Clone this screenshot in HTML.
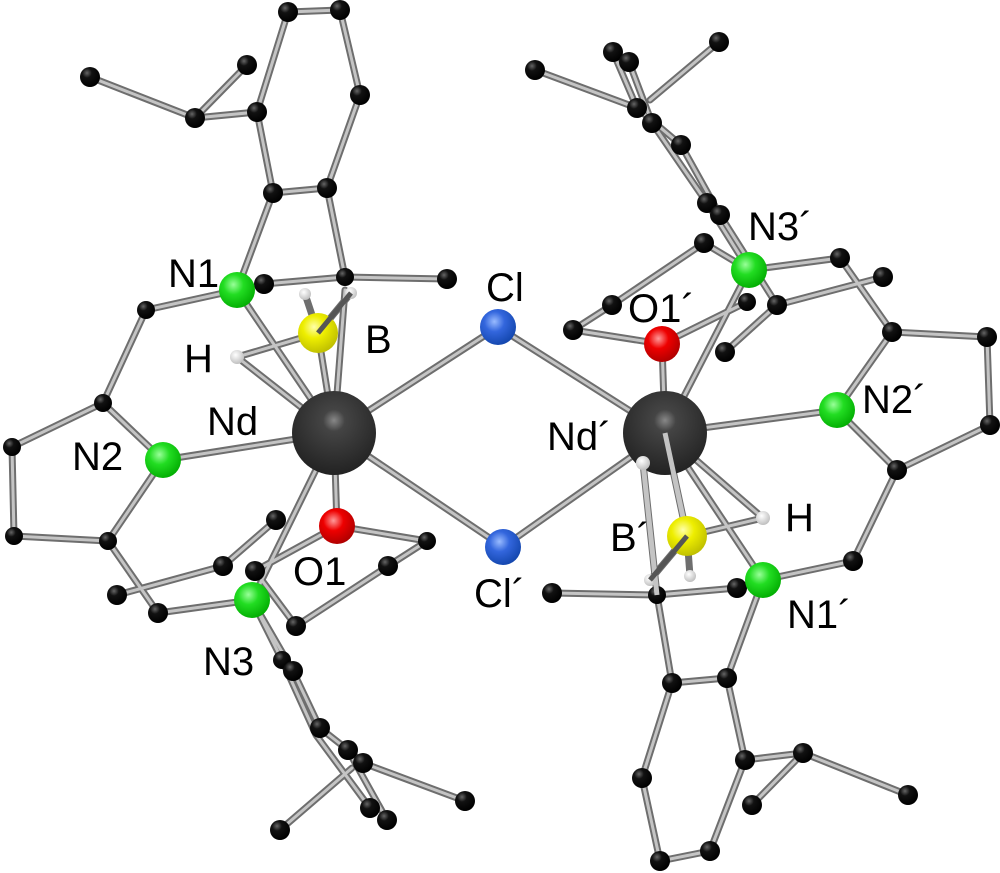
<!DOCTYPE html>
<html><head><meta charset="utf-8"><style>
html,body{margin:0;padding:0;background:#fff;}
svg{display:block;}
text{font-family:"Liberation Sans",sans-serif;font-size:40px;fill:#000;}
</style></head><body>
<svg width="1000" height="873" viewBox="0 0 1000 873" xmlns="http://www.w3.org/2000/svg">
<defs>
<radialGradient id="gC" cx="0.35" cy="0.3" r="0.7"><stop offset="0" stop-color="#666"/><stop offset="0.35" stop-color="#111"/><stop offset="1" stop-color="#000"/></radialGradient>
<radialGradient id="gNd" cx="0.5" cy="0.35" r="0.65"><stop offset="0" stop-color="#888"/><stop offset="0.2" stop-color="#444"/><stop offset="1" stop-color="#222"/></radialGradient>
<radialGradient id="gN" cx="0.4" cy="0.35" r="0.7"><stop offset="0" stop-color="#9f9"/><stop offset="0.4" stop-color="#2d2"/><stop offset="1" stop-color="#0a0"/></radialGradient>
<radialGradient id="gCl" cx="0.4" cy="0.35" r="0.7"><stop offset="0" stop-color="#9bf"/><stop offset="0.4" stop-color="#36d"/><stop offset="1" stop-color="#14a"/></radialGradient>
<radialGradient id="gO" cx="0.4" cy="0.35" r="0.7"><stop offset="0" stop-color="#f99"/><stop offset="0.4" stop-color="#e00"/><stop offset="1" stop-color="#a00"/></radialGradient>
<radialGradient id="gB" cx="0.4" cy="0.35" r="0.7"><stop offset="0" stop-color="#ffa"/><stop offset="0.4" stop-color="#ee0"/><stop offset="1" stop-color="#bb0"/></radialGradient>
<radialGradient id="gH" cx="0.4" cy="0.35" r="0.7"><stop offset="0" stop-color="#fff"/><stop offset="1" stop-color="#bbb"/></radialGradient>
</defs>
<g id="bonds" stroke-linecap="round">
<g stroke="#6e6e6e" stroke-width="7">
<path d="M288 12L340 10M288 12L257 112M340 10L360 95M360 95L327 188M327 188L273 193M273 193L257 112M257 112L195 118M195 118L90 77M195 118L247 65M273 193L237 290M327 188L345 277M345 277L447 279M345 277L264 284M237 290L146 310M146 310L103 403M237 290L334 433M318 333L334 433M237 357L318 333M237 357L334 433M345 290L334 433M318 333L351 293M318 333L305 294M334 433L498 327M498 327L665 433M334 433L503 547M503 547L665 433"/>
<path d="M103 403L12 447M103 403L163 460M12 447L14 536M14 536L108 541M108 541L163 460M163 460L334 433M108 541L158 613M158 613L252 600M117 595L223 566M223 566L276 520M334 433L337 526M337 526L255 571M334 433L252 600M255 571L296 626M296 626L388 566M388 566L427 541M427 541L337 526M252 600L282 660M252 600L293 671M293 671L320 728M282 660L316 735M320 728L348 750M348 750L363 763M363 763L465 801M348 750L387 820M316 735L370 808M280 830L352 768"/>
<path d="M535 70L637 108M719 42L650 100M613 52L637 108M629 62L652 123M637 108L681 145M652 123L707 203M681 145L720 215M707 203L749 270M720 215L777 305M704 243L612 305M704 243L749 270M612 305L573 330M573 330L662 344M662 344L747 302M777 305L883 277M777 305L725 352M749 270L840 258M840 258L892 332M892 332L987 337M987 337L990 425M892 332L837 410M665 433L749 270M665 433L662 344M665 433L837 410M837 410L897 470M990 425L897 470M897 470L853 561M853 561L763 580"/>
<path d="M665 433L687 536M687 536L763 518M763 518L665 433M665 433L763 580M687 536L650 580M687 536L690 576M643 463L657 595M552 593L657 595M657 595L737 588M737 588L763 580M657 595L672 683M672 683L727 678M727 678L763 580M727 678L745 760M745 760L803 753M803 753L908 795M803 753L752 805M672 683L642 778M642 778L660 861M660 861L710 851M710 851L745 760"/>
</g>
<g stroke="#c4c4c4" stroke-width="3">
<path d="M288 12L340 10M288 12L257 112M340 10L360 95M360 95L327 188M327 188L273 193M273 193L257 112M257 112L195 118M195 118L90 77M195 118L247 65M273 193L237 290M327 188L345 277M345 277L447 279M345 277L264 284M237 290L146 310M146 310L103 403M237 290L334 433M318 333L334 433M237 357L318 333M237 357L334 433M345 290L334 433M334 433L498 327M498 327L665 433M334 433L503 547M503 547L665 433"/>
<path d="M103 403L12 447M103 403L163 460M12 447L14 536M14 536L108 541M108 541L163 460M163 460L334 433M108 541L158 613M158 613L252 600M117 595L223 566M223 566L276 520M334 433L337 526M337 526L255 571M334 433L252 600M255 571L296 626M296 626L388 566M388 566L427 541M427 541L337 526M252 600L282 660M252 600L293 671M293 671L320 728M282 660L316 735M320 728L348 750M348 750L363 763M363 763L465 801M348 750L387 820M316 735L370 808M280 830L352 768"/>
<path d="M535 70L637 108M719 42L650 100M613 52L637 108M629 62L652 123M637 108L681 145M652 123L707 203M681 145L720 215M707 203L749 270M720 215L777 305M704 243L612 305M704 243L749 270M612 305L573 330M573 330L662 344M662 344L747 302M777 305L883 277M777 305L725 352M749 270L840 258M840 258L892 332M892 332L987 337M987 337L990 425M892 332L837 410M665 433L749 270M665 433L662 344M665 433L837 410M837 410L897 470M990 425L897 470M897 470L853 561M853 561L763 580"/>
<path d="M665 433L687 536M687 536L763 518M763 518L665 433M665 433L763 580M643 463L657 595M552 593L657 595M657 595L737 588M737 588L763 580M657 595L672 683M672 683L727 678M727 678L763 580M727 678L745 760M745 760L803 753M803 753L908 795M803 753L752 805M672 683L642 778M642 778L660 861M660 861L710 851M710 851L745 760"/>
</g>
</g>
<g fill="url(#gC)">
<circle cx="288" cy="12" r="10"/><circle cx="340" cy="10" r="10"/><circle cx="90" cy="77" r="10"/><circle cx="247" cy="65" r="10"/><circle cx="195" cy="118" r="10"/><circle cx="257" cy="112" r="10"/><circle cx="360" cy="95" r="10"/><circle cx="273" cy="193" r="10"/><circle cx="327" cy="188" r="10"/><circle cx="264" cy="284" r="10"/><circle cx="345" cy="277" r="9"/><circle cx="447" cy="279" r="10"/><circle cx="146" cy="310" r="9"/><circle cx="103" cy="403" r="9"/>
<circle cx="12" cy="447" r="9"/><circle cx="14" cy="536" r="9"/><circle cx="108" cy="541" r="9"/><circle cx="158" cy="613" r="10"/><circle cx="117" cy="595" r="10"/><circle cx="223" cy="566" r="10"/><circle cx="276" cy="520" r="10"/><circle cx="255" cy="571" r="10"/><circle cx="296" cy="626" r="10"/><circle cx="388" cy="566" r="10"/><circle cx="427" cy="541" r="9"/><circle cx="282" cy="660" r="9"/><circle cx="293" cy="671" r="10"/><circle cx="320" cy="728" r="10"/><circle cx="348" cy="750" r="10"/><circle cx="363" cy="763" r="10"/><circle cx="465" cy="801" r="10"/><circle cx="370" cy="808" r="10"/><circle cx="387" cy="820" r="10"/><circle cx="280" cy="830" r="10"/>
<circle cx="535" cy="70" r="10"/><circle cx="719" cy="42" r="10"/><circle cx="613" cy="52" r="10"/><circle cx="629" cy="62" r="10"/><circle cx="637" cy="108" r="10"/><circle cx="652" cy="123" r="10"/><circle cx="681" cy="145" r="10"/><circle cx="707" cy="203" r="10"/><circle cx="720" cy="215" r="10"/><circle cx="704" cy="243" r="10"/><circle cx="840" cy="258" r="10"/><circle cx="883" cy="277" r="10"/><circle cx="612" cy="305" r="10"/><circle cx="747" cy="302" r="9"/><circle cx="777" cy="305" r="10"/><circle cx="573" cy="330" r="10"/><circle cx="725" cy="352" r="10"/><circle cx="892" cy="332" r="10"/><circle cx="987" cy="337" r="10"/><circle cx="990" cy="425" r="10"/>
<circle cx="897" cy="470" r="10"/><circle cx="853" cy="561" r="10"/><circle cx="552" cy="593" r="10"/><circle cx="657" cy="595" r="9"/><circle cx="737" cy="588" r="10"/><circle cx="672" cy="683" r="10"/><circle cx="727" cy="678" r="10"/><circle cx="745" cy="760" r="10"/><circle cx="803" cy="753" r="10"/><circle cx="908" cy="795" r="10"/><circle cx="752" cy="805" r="10"/><circle cx="642" cy="778" r="10"/><circle cx="660" cy="861" r="10"/><circle cx="710" cy="851" r="10"/>
</g>
<g fill="url(#gH)">
<circle cx="305" cy="294" r="6"/><circle cx="351" cy="293" r="6"/><circle cx="237" cy="357" r="7"/>
<circle cx="643" cy="463" r="7"/><circle cx="763" cy="518" r="7"/><circle cx="650" cy="580" r="6"/><circle cx="690" cy="576" r="6"/>
</g>
<circle cx="334" cy="433" r="42" fill="url(#gNd)"/>
<circle cx="665" cy="433" r="42" fill="url(#gNd)"/>
<path d="M643 463L657 595M665 433L687 536" stroke="#c4c4c4" stroke-width="5"/>
<circle cx="643" cy="463" r="7" fill="url(#gH)"/>
<circle cx="318" cy="333" r="20" fill="url(#gB)"/>
<circle cx="687" cy="536" r="20" fill="url(#gB)"/>
<path d="M318 333L351 293M687 536L650 580" stroke="#555" stroke-width="5"/>
<circle cx="237" cy="290" r="18" fill="url(#gN)"/><circle cx="163" cy="460" r="18" fill="url(#gN)"/><circle cx="252" cy="600" r="18" fill="url(#gN)"/>
<circle cx="749" cy="270" r="18" fill="url(#gN)"/><circle cx="837" cy="410" r="18" fill="url(#gN)"/><circle cx="763" cy="580" r="18" fill="url(#gN)"/>
<circle cx="498" cy="327" r="18" fill="url(#gCl)"/><circle cx="503" cy="547" r="18" fill="url(#gCl)"/>
<circle cx="337" cy="526" r="18" fill="url(#gO)"/><circle cx="662" cy="344" r="18" fill="url(#gO)"/>
<text x="168" y="287">N1</text>
<text x="184" y="372">H</text>
<text x="365" y="353">B</text>
<text x="207" y="435">Nd</text>
<text x="72" y="470">N2</text>
<text x="293" y="585">O1</text>
<text x="203" y="675">N3</text>
<text x="486" y="301">Cl</text>
<text x="474" y="607">Cl´</text>
<text x="547" y="450">Nd´</text>
<text x="628" y="322">O1´</text>
<text x="748" y="240">N3´</text>
<text x="862" y="413">N2´</text>
<text x="785" y="531">H</text>
<text x="610" y="551">B´</text>
<text x="787" y="628">N1´</text>
</svg>
</body></html>
